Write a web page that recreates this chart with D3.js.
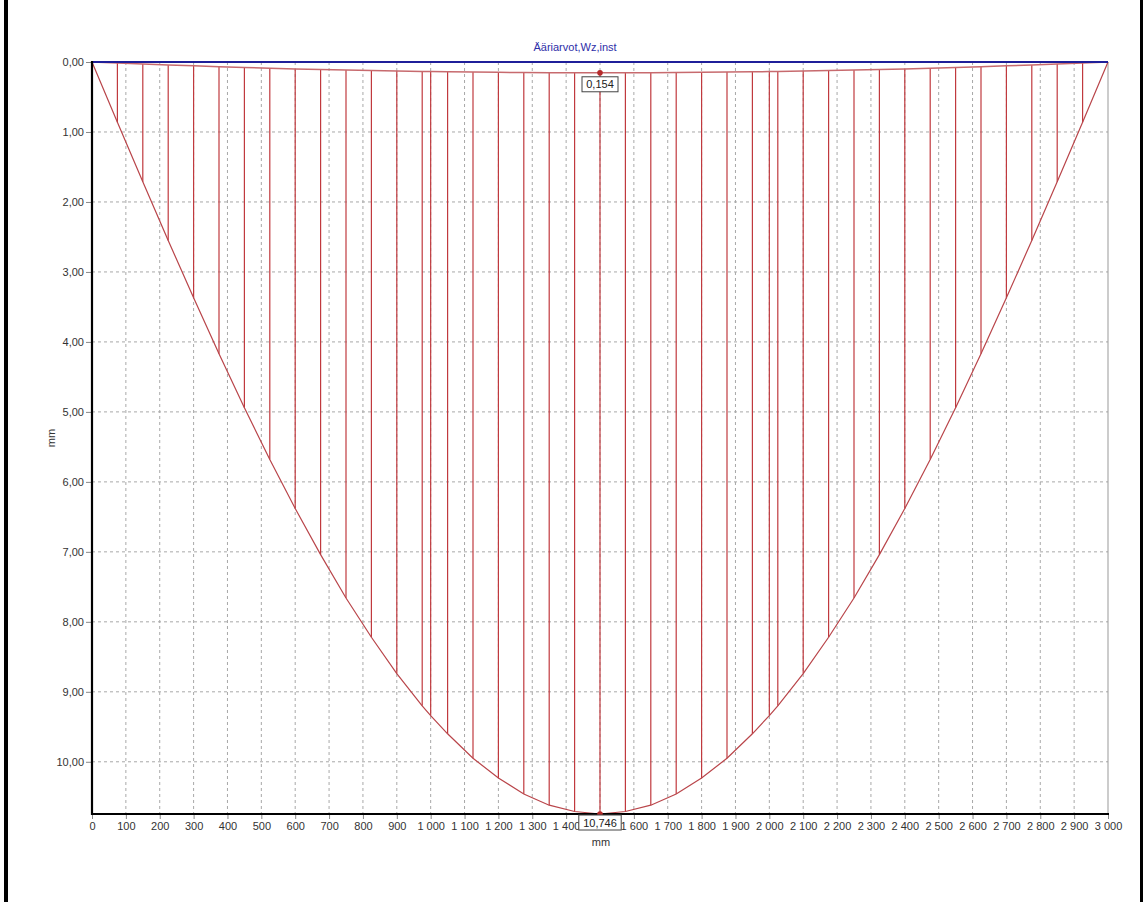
<!DOCTYPE html>
<html>
<head>
<meta charset="utf-8">
<script src="https://cdn.jsdelivr.net/npm/d3@7"></script>
<style>
  body { margin: 0; background: #fff; }
  svg { display: block; font-family: "Liberation Sans", Arial, sans-serif; }
  .grid line { stroke: #a8a8a8; stroke-dasharray: 3,3; }
  .tick text { fill: #333; font-size: 11px; }
</style>
</head>
<body>
<svg width="1147" height="902"></svg>
<script>
// node positions along the beam (mm)
const positions = [0, 75, 150, 225, 300, 375, 450, 525, 600, 675, 750, 825, 900, 975, 1000,
  1050, 1125, 1200, 1275, 1350, 1425, 1500, 1575, 1650, 1725, 1800, 1875, 1950, 2000, 2025,
  2100, 2175, 2250, 2325, 2400, 2475, 2550, 2625, 2700, 2775, 2850, 2925, 3000];
// Wz,inst lower envelope (mm)
const wMax = [0, 0.86, 1.71, 2.55, 3.37, 4.17, 4.94, 5.68, 6.38, 7.04, 7.66, 8.22, 8.74, 9.20, 9.34,
  9.60, 9.95, 10.23, 10.46, 10.62, 10.71, 10.746, 10.71, 10.62, 10.46, 10.23, 9.95, 9.60, 9.34, 9.20,
  8.74, 8.22, 7.66, 7.04, 6.38, 5.68, 4.94, 4.17, 3.37, 2.55, 1.71, 0.86, 0];
// Wz,inst upper envelope (mm)
const wMin = [0, 0.015, 0.029, 0.043, 0.055, 0.067, 0.079, 0.089, 0.099, 0.107, 0.116, 0.123, 0.129, 0.135, 0.137,
  0.140, 0.144, 0.148, 0.151, 0.153, 0.154, 0.154, 0.154, 0.153, 0.151, 0.148, 0.144, 0.140, 0.137, 0.135,
  0.129, 0.123, 0.116, 0.107, 0.099, 0.089, 0.079, 0.067, 0.055, 0.043, 0.029, 0.015, 0];
const xTicks = d3.range(0, 3001, 100);
const yTicks = d3.range(0, 11, 1);
const extremes = [{ pos: 1500, val: 0.154 }, { pos: 1500, val: 10.746 }];

const svg = d3.select("svg");
const fi = d3.formatLocale({ decimal: ",", thousands: "\u00a0", grouping: [3] });
const fx = fi.format(",d"), fy = fi.format(".2f"), fv = fi.format(".3f");

const x = d3.scaleLinear().domain([0, 3000]).range([92, 1108]);
const y = d3.scaleLinear().domain([0, 10.746]).range([62, 814]);

// outer frame bars
svg.append("rect").attr("x", 4).attr("y", 0).attr("width", 4).attr("height", 902).attr("fill", "#000");
svg.append("rect").attr("x", 1140).attr("y", 0).attr("width", 3).attr("height", 902).attr("fill", "#000");

// grid
svg.append("g").attr("class", "grid")
  .selectAll("line").data(xTicks.filter(d => d > 0 && d < 3000)).enter().append("line")
  .attr("x1", d => x(d)).attr("x2", d => x(d)).attr("y1", 62).attr("y2", 814);
svg.append("g").attr("class", "grid")
  .selectAll("line").data(yTicks.filter(d => d > 0)).enter().append("line")
  .attr("x1", 92).attr("x2", 1108).attr("y1", d => y(d)).attr("y2", d => y(d));

// axes
const xAxis = svg.append("g").attr("transform", "translate(0,814)")
  .call(d3.axisBottom(x).tickValues(xTicks).tickFormat(fx).tickSize(5).tickPadding(3));
const yAxis = svg.append("g").attr("transform", "translate(92,0)")
  .call(d3.axisLeft(y).tickValues(yTicks).tickFormat(fy).tickSize(6).tickPadding(2));
[xAxis, yAxis].forEach(a => {
  a.select(".domain").remove();
  a.selectAll(".tick line").attr("stroke", "#888");
  a.attr("font-family", null).attr("font-size", null);
});

svg.append("line").attr("x1", 1108).attr("x2", 1108).attr("y1", 62).attr("y2", 814).attr("stroke", "#999");

// vertical hatching between envelopes
const nodes = positions.map((p, i) => ({ pos: p, lo: wMin[i], hi: wMax[i] }));
svg.append("g").selectAll("line").data(nodes.filter(d => d.pos > 0 && d.pos < 3000)).enter().append("line")
  .attr("x1", d => x(d.pos)).attr("x2", d => x(d.pos))
  .attr("y1", d => y(d.lo)).attr("y2", d => y(d.hi))
  .attr("stroke", "#c0393e").attr("stroke-width", 1.2);

const line = key => d3.line().x(d => x(d.pos)).y(d => y(d[key]));
svg.append("path").datum(nodes).attr("d", line("hi")).attr("fill", "none").attr("stroke", "#b9454a").attr("stroke-width", 1.2);
svg.append("path").datum(nodes).attr("d", line("lo")).attr("fill", "none").attr("stroke", "#c76a6e").attr("stroke-width", 1.5);

// axis lines
svg.append("line").attr("x1", 92).attr("x2", 1108).attr("y1", 62).attr("y2", 62).attr("stroke", "#1f1f99").attr("stroke-width", 2);
svg.append("line").attr("x1", 92).attr("x2", 92).attr("y1", 61).attr("y2", 815).attr("stroke", "#000").attr("stroke-width", 2.2);
svg.append("line").attr("x1", 91).attr("x2", 1109).attr("y1", 814).attr("y2", 814).attr("stroke", "#000").attr("stroke-width", 2.2);

// extreme markers with boxed labels
extremes.forEach((e, i) => {
  const cx = x(e.pos), cy = y(e.val);
  svg.append("circle").attr("cx", cx).attr("cy", cy).attr("r", 2.8).attr("fill", "#b52a2a");
  const txt = fv(e.val);
  const w = txt.length * 6.4 + 4, by = i === 0 ? cy + 4 : cy + 1;
  svg.append("rect").attr("x", cx - w / 2).attr("y", by).attr("width", w).attr("height", 15)
    .attr("fill", "#fff").attr("stroke", "#444").attr("stroke-width", 1);
  svg.append("text").attr("x", cx).attr("y", by + 11.5).attr("text-anchor", "middle")
    .attr("font-size", 11).attr("fill", "#222").text(txt);
});

// titles
svg.append("text").attr("x", 575).attr("y", 51).attr("text-anchor", "middle")
  .attr("font-size", 11).attr("fill", "#2e2ea8").text("Ääriarvot,Wz,inst");
svg.append("text").attr("x", 601).attr("y", 846).attr("text-anchor", "middle")
  .attr("font-size", 11).attr("fill", "#333").text("mm");
svg.append("text").attr("transform", "translate(55,438) rotate(-90)").attr("text-anchor", "middle")
  .attr("font-size", 11).attr("fill", "#333").text("mm");
</script>
</body>
</html>
